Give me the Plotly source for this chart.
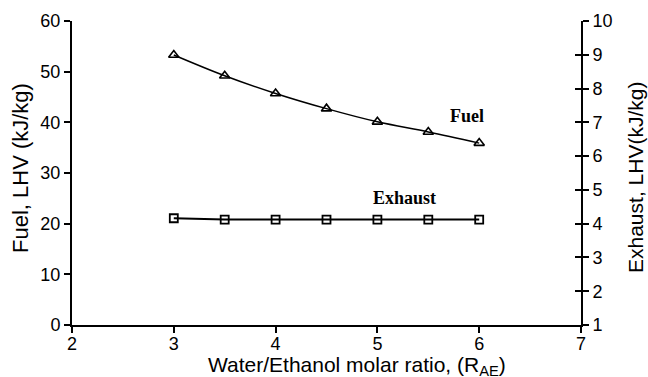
import plotly.graph_objects as go

ratio = [3, 3.5, 4, 4.5, 5, 5.5, 6]
fuel_lhv = [53.3, 49.2, 45.7, 42.7, 40.1, 38.1, 35.9]
exhaust_lhv = [4.16, 4.12, 4.12, 4.12, 4.12, 4.12, 4.12]

x_ticks = [2, 3, 4, 5, 6, 7]
left_ticks = [0, 10, 20, 30, 40, 50, 60]
right_ticks = [1, 2, 3, 4, 5, 6, 7, 8, 9, 10]

font = "Liberation Sans, Arial, sans-serif"
serif = "Liberation Serif, Times New Roman, serif"

L, R, T, B = 72, 67, 21, 52
W, H = 648, 377
PW, PH = W - L - R, H - T - B


def px(x):
    return (x - L) / PW


def py(y):
    return (H - B - y) / PH


fig = go.Figure()
fig.add_trace(go.Scatter(
    x=ratio, y=fuel_lhv, mode="lines+markers", name="Fuel",
    line=dict(color="black", width=1.5, shape="spline"),
    marker=dict(symbol="triangle-up-open", size=9, color="black", line=dict(width=1.6)),
))
fig.add_trace(go.Scatter(
    x=ratio, y=exhaust_lhv, mode="lines+markers", name="Exhaust", yaxis="y2",
    line=dict(color="black", width=2),
    marker=dict(symbol="square-open", size=8, color="black", line=dict(width=1.8)),
))
# invisible copy so the inner-tick axis is drawn
fig.add_trace(go.Scatter(
    x=ratio, y=exhaust_lhv, mode="lines", yaxis="y3", opacity=0,
    hoverinfo="skip", showlegend=False,
))

fig.add_annotation(x=5.885, y=41.2, xref="x", yref="y", text="<b>Fuel</b>", showarrow=False,
                   font=dict(family=serif, size=18, color="black"))
fig.add_annotation(x=5.27, y=25.1, xref="x", yref="y", text="<b>Exhaust</b>", showarrow=False,
                   font=dict(family=serif, size=18, color="black"))
fig.add_annotation(x=px(357), y=py(366), xref="paper", yref="paper", showarrow=False,
                   xanchor="center", yanchor="middle",
                   text="Water/Ethanol molar ratio, (R<sub>AE</sub>)",
                   font=dict(family=font, size=21, color="black"))
fig.add_annotation(x=px(20), y=py(168), xref="paper", yref="paper", showarrow=False,
                   xanchor="center", yanchor="middle", textangle=-90,
                   text="Fuel, LHV (kJ/kg)",
                   font=dict(family=font, size=22, color="black"))
fig.add_annotation(x=px(635), y=py(178), xref="paper", yref="paper", showarrow=False,
                   xanchor="center", yanchor="middle", textangle=-90,
                   text="Exhaust, LHV(kJ/kg)",
                   font=dict(family=font, size=21, color="black"))

axis_common = dict(showgrid=False, zeroline=False, showline=True, linecolor="black", linewidth=2,
                   ticks="outside", ticklen=6, tickwidth=2, tickcolor="black", automargin=False,
                   tickfont=dict(family=font, size=18, color="black"))

fig.update_layout(
    width=W, height=H,
    margin=dict(l=L, r=R, t=T, b=B),
    paper_bgcolor="white", plot_bgcolor="white",
    showlegend=False,
    font=dict(family=font, color="black"),
    xaxis=dict(range=[2, 7], tickvals=x_ticks, ticklabelstandoff=-5, **axis_common),
    yaxis=dict(range=[0, 60], tickvals=left_ticks, **axis_common),
    yaxis2=dict(range=[1, 10], tickvals=right_ticks, overlaying="y", side="right", **axis_common),
    yaxis3=dict(range=[1, 10], tickvals=right_ticks, overlaying="y", side="right", anchor="x",
                showgrid=False, zeroline=False, showline=False, showticklabels=False,
                ticks="inside", ticklen=6, tickwidth=2, tickcolor="black", automargin=False),
)

fig.write_html("out.html")
